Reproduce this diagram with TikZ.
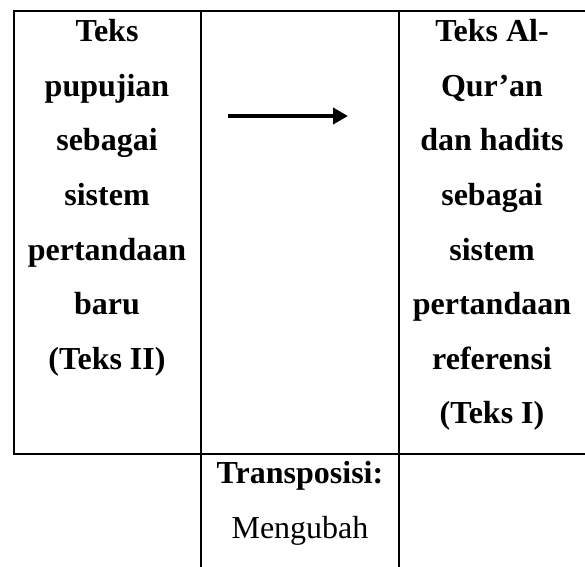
\documentclass[tikz,border=0pt]{standalone}
\usepackage{fontspec}
\setmainfont{Liberation Serif}
\usetikzlibrary{arrows.meta}
\begin{document}
\begin{tikzpicture}[x=1pt,y=-1pt,
  rule/.style={line width=2pt,line cap=rect},
  cell/.style={anchor=north,inner sep=0pt,align=center,
    font=\fontsize{32}{54.6}\selectfont\bfseries},
  plaincell/.style={cell,font=\fontsize{32}{54.6}\selectfont}]
\useasboundingbox (0,0) rectangle (585,566);

% table frame
\draw[rule] (585,11) -- (13.5,11) -- (13.5,454) -- (585,454);
\draw[rule] (201,11) -- (201,566);
\draw[rule] (399,11) -- (399,566);

% cell texts
\node[cell] (kiri) at (107,3.3) {\strut Teks\\pupujian\\sebagai\\sistem\\pertandaan\\baru\\(Teks II)};
\node[cell] (kanan) at (492,3.3) {\strut Teks Al-\\Qur’an\\dan hadits\\sebagai\\sistem\\pertandaan\\referensi\\(Teks I)};
\node[cell] (judul) at (300,445.1) {\strut Transposisi:};
\node[plaincell] (isi) at (300,499.7) {\strut Mengubah};

% arrow in the middle column
\coordinate (awal) at (228,116);
\coordinate (akhir) at (348,116);
\draw[line width=4.5pt,-{Triangle[length=15pt,width=16pt]}] (awal) -- (akhir);
\end{tikzpicture}
\end{document}
